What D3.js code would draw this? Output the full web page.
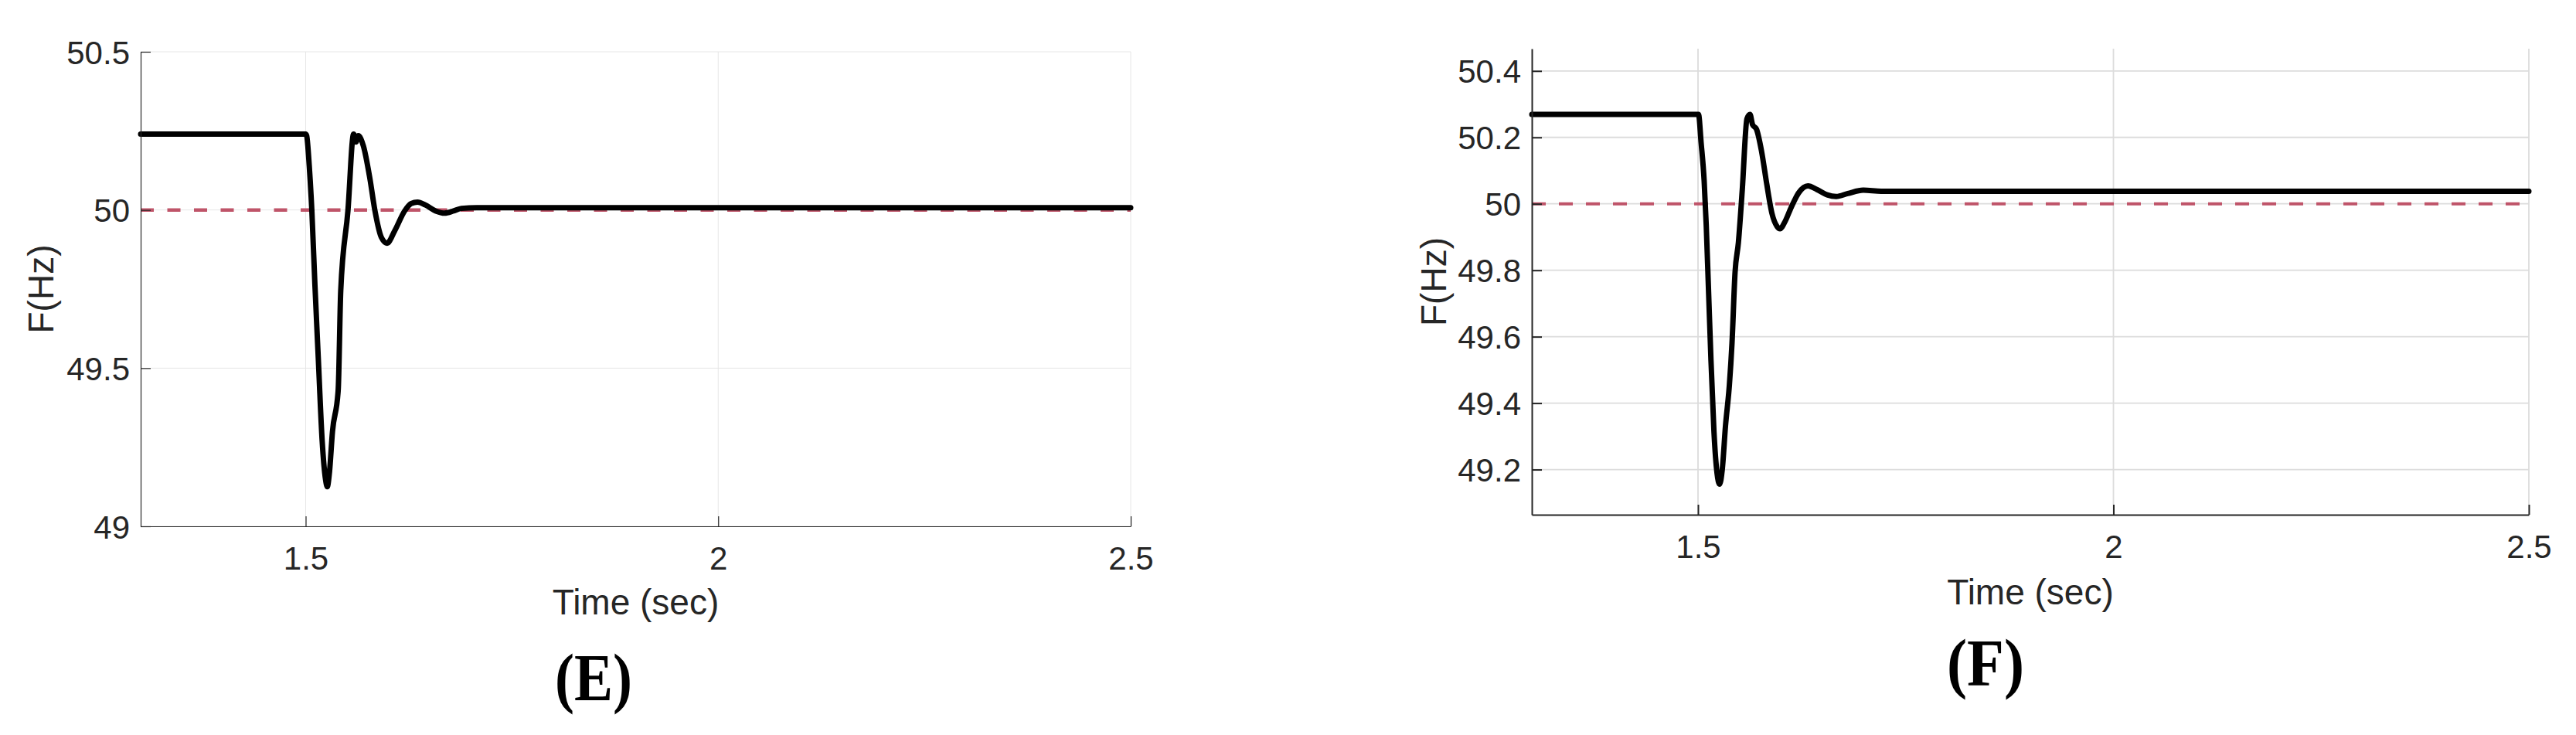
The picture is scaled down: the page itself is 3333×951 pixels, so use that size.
<!DOCTYPE html>
<html><head><meta charset="utf-8">
<script src="https://cdn.jsdelivr.net/npm/d3@7"></script>
<style>html,body{margin:0;padding:0;background:#fff;}svg{display:block;}</style>
</head><body>
<svg id="c" width="3333" height="951"></svg>
<script>
// ---- data ----
const xTicks = [1.5, 2, 2.5];
const yTicksE = [49, 49.5, 50, 50.5];
const yTicksF = [49.2, 49.4, 49.6, 49.8, 50, 50.2, 50.4];
const nominalFreq = 50;
const xLabel = "Time (sec)";
const yLabel = "F(Hz)";
const panelLabels = ["(E)", "(F)"];

const timeE = [1.3, 1.5, 1.5012, 1.5044, 1.5075, 1.5112, 1.5153, 1.52, 1.5241, 1.5262, 1.5287, 1.5325, 1.5394, 1.5425, 1.5512, 1.5581, 1.561, 1.5637, 1.57, 1.5778, 1.584, 1.5918, 1.5987, 1.6075, 1.62, 1.6278, 1.6356, 1.645, 1.6575, 1.6684, 1.6793, 1.6887, 1.7074, 1.8, 2.0, 2.2, 2.5];
const freqE = [50.24, 50.24, 50.235, 50.137, 49.997, 49.764, 49.531, 49.27, 49.148, 49.125, 49.167, 49.30, 49.43, 49.745, 49.997, 50.24, 50.215, 50.235, 50.202, 50.10, 49.997, 49.913, 49.895, 49.932, 49.997, 50.02, 50.025, 50.016, 49.997, 49.99, 49.997, 50.005, 50.007, 50.007, 50.007, 50.007, 50.007];

const timeF = [1.3, 1.5, 1.5006, 1.5037, 1.5074, 1.5099, 1.5124, 1.5155, 1.5192, 1.5229, 1.526, 1.5291, 1.5331, 1.5378, 1.5409, 1.5446, 1.5486, 1.5533, 1.5589, 1.5626, 1.5657, 1.5703, 1.5765, 1.5827, 1.5889, 1.5951, 1.5988, 1.6044, 1.6121, 1.6214, 1.6323, 1.6431, 1.6555, 1.6664, 1.6803, 1.6989, 1.7206, 1.7515, 2.0, 2.2, 2.5];
const freqF = [50.269, 50.269, 50.269, 50.185, 50.069, 49.936, 49.758, 49.536, 49.314, 49.189, 49.156, 49.198, 49.332, 49.456, 49.58, 49.794, 49.883, 50.043, 50.256, 50.269, 50.238, 50.225, 50.158, 50.06, 49.972, 49.932, 49.925, 49.945, 49.989, 50.034, 50.054, 50.043, 50.027, 50.022, 50.031, 50.041, 50.038, 50.038, 50.038, 50.038, 50.038];

const xDomain = [1.3, 2.5];
const yDomainE = [49, 50.5];
const yDomainF = [49.064, 50.467];

// ---- layout / style ----
const panels = [
  {t: timeE, f: freqE, yTicks: yTicksE, yDomain: yDomainE, label: panelLabels[0],
   L: 182, R: 1463, T: 67, B: 681, grid: "#e6e6e6", gridW: 1, axisW: 1.2,
   dash: "17,17.5", dashW: 4.5, ylabX: 69, xlabY: 795, plabX: 768, plabY: 906},
  {t: timeF, f: freqF, yTicks: yTicksF, yDomain: yDomainF, label: panelLabels[1],
   L: 1982, R: 3272, T: 63, B: 666, grid: "#dcdcdc", gridW: 1.8, axisW: 2,
   dash: "18,17", dashW: 4, ylabX: 1871, xlabY: 782, plabX: 2569, plabY: 887}
];

const svg = d3.select("#c");
svg.append("rect").attr("width", 3333).attr("height", 951).attr("fill", "#fff");
const FONT = "'Liberation Sans', Arial, Helvetica, sans-serif";

panels.forEach(p => {
  const x = d3.scaleLinear().domain(xDomain).range([p.L, p.R]);
  const y = d3.scaleLinear().domain(p.yDomain).range([p.B, p.T]);
  const g = svg.append("g");

  // grid
  g.append("g").selectAll("line.vx").data(xTicks).join("line")
    .attr("x1", d => x(d)).attr("x2", d => x(d)).attr("y1", p.T).attr("y2", p.B)
    .attr("stroke", p.grid).attr("stroke-width", p.gridW);
  g.append("g").selectAll("line.hy").data(p.yTicks).join("line")
    .attr("x1", p.L).attr("x2", p.R).attr("y1", d => y(d)).attr("y2", d => y(d))
    .attr("stroke", p.grid).attr("stroke-width", p.gridW);

  // reference dashed line
  g.append("line")
    .attr("x1", x(xDomain[0])).attr("x2", x(xDomain[1]))
    .attr("y1", y(nominalFreq)).attr("y2", y(nominalFreq))
    .attr("stroke", "#bf5469").attr("stroke-width", p.dashW)
    .attr("stroke-dasharray", p.dash);

  // frequency curve
  const pts = p.t.map((t, i) => [t, p.f[i]]);
  const line = d3.line().x(d => x(d[0])).y(d => y(d[1])).curve(d3.curveMonotoneX);
  g.append("path").datum(pts).attr("d", line)
    .attr("fill", "none").attr("stroke", "#000").attr("stroke-width", 7)
    .attr("stroke-linejoin", "round").attr("stroke-linecap", "round");

  // axes
  const xAxis = d3.axisBottom(x).tickValues(xTicks).tickSizeInner(-13).tickSizeOuter(0)
    .tickPadding(26).tickFormat(d => String(d));
  const gx = g.append("g").attr("transform", `translate(0,${p.B})`).call(xAxis);
  const yAxis = d3.axisLeft(y).tickValues(p.yTicks).tickSizeInner(-13).tickSizeOuter(0)
    .tickPadding(14).tickFormat(d => String(d));
  const gy = g.append("g").attr("transform", `translate(${p.L},0)`).call(yAxis);
  [gx, gy].forEach(a => {
    a.select(".domain").attr("stroke", "#262626").attr("stroke-width", p.axisW);
    a.selectAll(".tick line").attr("stroke", "#262626").attr("stroke-width", p.axisW);
    a.selectAll(".tick text").attr("fill", "#262626").attr("font-size", 42)
      .attr("font-family", FONT);
  });
  gy.selectAll(".tick text").attr("dy", "0.36em");

  // axis labels
  g.append("text").attr("x", (p.L + p.R) / 2).attr("y", p.xlabY)
    .attr("text-anchor", "middle").attr("font-size", 46).attr("font-family", FONT)
    .attr("fill", "#262626").text(xLabel);
  g.append("text").attr("transform", `translate(${p.ylabX},${(p.T + p.B) / 2}) rotate(-90)`)
    .attr("text-anchor", "middle").attr("font-size", 46).attr("font-family", FONT)
    .attr("fill", "#262626").text(yLabel);

  // panel label
  g.append("text").attr("x", p.plabX).attr("y", p.plabY)
    .attr("text-anchor", "middle").attr("font-size", 86)
    .attr("font-family", "'Liberation Serif', 'Times New Roman', serif")
    .attr("font-weight", "bold").attr("fill", "#000")
    .attr("textLength", 100).attr("lengthAdjust", "spacingAndGlyphs")
    .text(p.label);
});
</script>
</body></html>
